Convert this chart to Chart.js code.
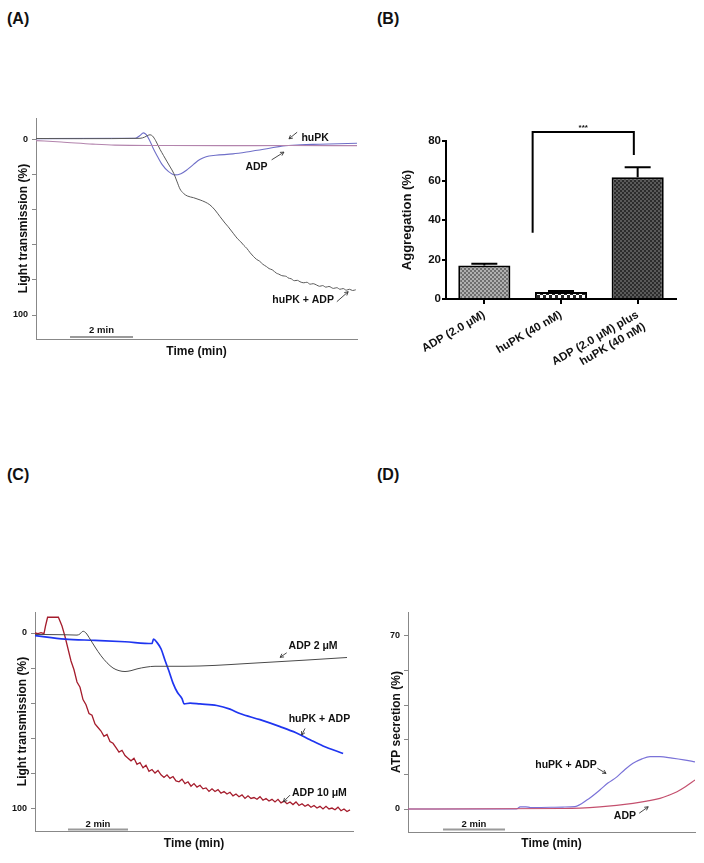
<!DOCTYPE html>
<html><head><meta charset="utf-8">
<script src="https://cdn.jsdelivr.net/npm/chart.js@4.4.1/dist/chart.umd.min.js"></script>
<style>
html,body{margin:0;padding:0;background:#fff}
body{width:704px;height:863px;position:relative;overflow:hidden;font-family:"Liberation Sans",Arial,sans-serif}
.lbl{position:absolute;font-weight:bold;font-size:16px;color:#111;line-height:18px}
canvas{position:absolute}
</style></head><body>
<div class="lbl" style="left:7px;top:10px">(A)</div>
<div class="lbl" style="left:377px;top:10px">(B)</div>
<div class="lbl" style="left:7px;top:466px">(C)</div>
<div class="lbl" style="left:377px;top:466px">(D)</div>
<canvas id="cA" width="360" height="270" style="left:0;top:100px"></canvas>
<canvas id="cB" width="344" height="290" style="left:360px;top:100px"></canvas>
<canvas id="cC" width="360" height="300" style="left:0;top:560px"></canvas>
<canvas id="cD" width="344" height="300" style="left:360px;top:560px"></canvas>
<script>
// ---------- Panel A data (time in min, light transmission %) ----------
const aHuPKTime = [0, 0.8, 1.8, 2.5, 4, 6, 8, 10.2];
const aHuPKVal  = [0.4, 1.2, 2.4, 3.0, 3.2, 3.3, 3.2, 3.3];
const aAdpTime = [0, 3.15, 3.3, 3.41, 3.5, 3.6, 3.7, 3.83, 4.0, 4.2, 4.41, 4.6, 4.8, 5.0, 5.2, 5.4, 5.7, 6.25, 6.8, 7.33, 7.84, 8.4, 9.0, 9.6, 10.2];
const aAdpVal  = [-0.7, -0.9, -2.5, -4, -3, 0, 4, 8.6, 14, 18, 20, 19.3, 17, 14, 11.2, 9.6, 8.8, 8.0, 6.6, 5.1, 3.4, 2.8, 2.5, 2.2, 1.9];
const aBothTime = [0, 1.5, 3.3, 3.45, 3.55, 3.62, 3.7, 3.8, 3.94, 4.05, 4.15, 4.26, 4.37, 4.47, 4.57, 4.68, 4.8, 5.0, 5.21, 5.37, 5.52, 5.68, 5.84, 6.0, 6.1, 6.26, 6.4, 6.5, 6.6, 6.69, 6.8, 6.9, 7.0, 7.1, 7.2, 7.32, 7.4, 7.5, 7.64, 7.7, 7.8, 7.96, 8.0, 8.1, 8.2, 8.3, 8.38, 8.5, 8.6, 8.7, 8.8, 8.91, 9.0, 9.1, 9.2, 9.3, 9.44, 9.55, 9.65, 9.75, 9.85, 9.95, 10.05, 10.15];
const aBothVal  = [-0.8, -0.7, -0.9, -1.6, -2.6, -2.9, -2.2, 0.5, 5.5, 9, 12.1, 15.5, 19, 23.5, 28, 30.5, 32, 33, 34.3, 35.5, 37.1, 40, 43.8, 47.5, 49.6, 53.3, 56.5, 58.2, 60.3, 61.9, 64.5, 66.5, 68.2, 69.3, 71, 72.4, 73.5, 74.2, 76.2, 76.6, 77.5, 78.1, 78.8, 79.3, 80.4, 80.2, 81, 81.6, 81.3, 82.4, 82.1, 82.9, 83.6, 83.2, 84.1, 83.7, 84.8, 84.4, 85.3, 84.9, 85.8, 85.3, 86, 85.6];

// ---------- Panel B data ----------
const bCategories = ['ADP (2.0 μM)', 'huPK (40 nM)', ['ADP (2.0 μM) plus', 'huPK (40 nM)']];
const bAggregation = [17, 3.5, 61.7];
const bError = [0.8, 0.5, 5.0];

// ---------- Panel C data ----------
const cRedTime = [0, 0.1, 0.2, 0.3, 0.35, 0.42, 0.78, 0.9, 1.0, 1.1, 1.2, 1.3, 1.4, 1.5, 1.6, 1.7, 1.8, 1.9, 2.0, 2.1, 2.2, 2.3, 2.4, 2.5, 2.6, 2.7, 2.8, 2.9, 3.0, 3.1, 3.2, 3.3, 3.4, 3.5, 3.6, 3.7, 3.8, 3.9, 4.0, 4.1, 4.2, 4.3, 4.4, 4.5, 4.6, 4.7, 4.8, 4.9, 5.0, 5.1, 5.2, 5.3, 5.4, 5.5, 5.6, 5.7, 5.8, 5.9, 6.0, 6.1, 6.2, 6.3, 6.4, 6.5, 6.6, 6.7, 6.8, 6.9, 7.0, 7.1, 7.2, 7.3, 7.4, 7.5, 7.6, 7.7, 7.8, 7.9, 8.0, 8.1, 8.2, 8.3, 8.4, 8.5, 8.6, 8.7, 8.8, 8.9, 9.0, 9.1, 9.2, 9.3, 9.4, 9.5, 9.6, 9.7, 9.8, 9.9, 10.0, 10.1, 10.2, 10.3, 10.4, 10.5];
const cRedVal  = [0, 0.3, -0.2, 0.4, -4, -9, -9, -4, 2, 9, 16, 21, 28, 31, 38, 41, 46, 47, 52, 54, 56, 59, 58, 62, 63, 65.5, 68, 67, 70, 71.5, 73, 71.5, 75, 74, 77, 75.5, 79, 78, 80, 78.5, 81, 82.5, 81, 83, 82, 84.5, 85, 83.5, 86, 85, 87.5, 86, 88, 87, 89, 88.5, 90.5, 89, 90.5, 89.5, 91.5, 90.5, 92, 91, 93, 92, 93.5, 92.5, 94.5, 93, 94.5, 94, 95, 93.5, 95.5, 94.5, 96, 95, 96.5, 95, 97, 96, 97.5, 96.5, 98, 96.5, 98.5, 97.5, 99, 98, 99.5, 98.5, 100, 99, 100.5, 99, 100.5, 100, 101, 99.5, 101.5, 100.5, 102, 101];
const cGrayTime = [0, 1.0, 1.4, 1.5, 1.6, 1.7, 1.8, 2.0, 2.2, 2.4, 2.6, 2.8, 3.0, 3.2, 3.4, 3.7, 4.0, 5.0, 6.0, 7.0, 8.0, 9.0, 10.4];
const cGrayVal  = [0.8, 1, 1.2, 0.5, -1, 0, 2.5, 8, 13, 17, 20, 21.5, 22, 21.5, 20.5, 19.5, 19, 19, 18.5, 17.5, 16.5, 15.5, 14];
const cBlueTime = [0, 1.0, 2.0, 3.0, 3.9, 3.95, 4.07, 4.2, 4.33, 4.47, 4.6, 4.75, 4.9, 4.97, 5.17, 5.5, 6.06, 6.5, 6.83, 7.5, 8.17, 8.7, 9.17, 9.6, 10.27];
const cBlueVal  = [1.5, 3.5, 4.2, 5, 6, 3.5, 5.5, 9, 15.4, 22, 28.6, 34, 37.5, 40.5, 40, 40.5, 41.4, 43.5, 46, 49.5, 53.5, 57, 61, 64.5, 68.8];

// ---------- Panel D data (ATP secretion %) ----------
const dBothTime = [0, 3.5, 3.62, 3.8, 3.95, 4.05, 5.0, 5.39, 5.77, 6.19, 6.45, 6.74, 7.0, 7.26, 7.55, 7.81, 8.13, 8.52, 8.9, 9.26];
const dBothVal  = [0, 0, 0.9, 0.9, 0.6, 0.6, 0.8, 1, 3.6, 7.7, 10.5, 13, 16, 18.5, 20.3, 21.2, 21.2, 20.6, 19.9, 19.1];
const dAdpTime = [0, 5.0, 6.19, 7.26, 7.7, 8.13, 8.4, 8.68, 8.95, 9.26];
const dAdpVal  = [0, 0.2, 0.9, 2.3, 3.2, 4.3, 5.5, 7, 9, 11.7];

const FONT = '"Liberation Sans", Arial, sans-serif';
const pts = (ts, vs) => ts.map((t, i) => ({x: t, y: vs[i]}));

function makeAnnot(spec) {
  return {
    id: 'annot',
    afterDatasetsDraw(chart) {
      const ctx = chart.ctx, xs = chart.scales.x, ys = chart.scales.y;
      const px = t => xs.getPixelForValue(t), py = v => ys.getPixelForValue(v);
      ctx.save();
      ctx.strokeStyle = '#333'; ctx.lineWidth = 0.9;
      (spec.arrows || []).forEach(a => {
        const x1 = px(a[0]), y1 = py(a[1]), x2 = px(a[2]), y2 = py(a[3]);
        ctx.beginPath(); ctx.moveTo(x1, y1); ctx.lineTo(x2, y2); ctx.stroke();
        const ang = Math.atan2(y2 - y1, x2 - x1), h = 4;
        ctx.beginPath();
        ctx.moveTo(x2 - h * Math.cos(ang - 0.5), y2 - h * Math.sin(ang - 0.5));
        ctx.lineTo(x2, y2);
        ctx.lineTo(x2 - h * Math.cos(ang + 0.5), y2 - h * Math.sin(ang + 0.5));
        ctx.stroke();
      });
      ctx.fillStyle = '#111';
      ctx.font = 'bold 10.5px ' + FONT;
      ctx.textAlign = 'center'; ctx.textBaseline = 'middle';
      (spec.texts || []).forEach(s => ctx.fillText(s[2], px(s[0]), py(s[1])));
      if (spec.bar) {
        const b = spec.bar;
        ctx.strokeStyle = '#9a9a9a'; ctx.lineWidth = 2;
        ctx.beginPath(); ctx.moveTo(px(b[0]), py(b[2])); ctx.lineTo(px(b[1]), py(b[2])); ctx.stroke();
        ctx.font = 'bold 9.5px ' + FONT;
        ctx.fillText('2 min', (px(b[0]) + px(b[1])) / 2, py(b[3]));
      }
      ctx.restore();
    }
  };
}

function traceOptions(o) {
  return {
    responsive: false, animation: false, events: [],
    layout: {padding: o.pad},
    plugins: {legend: {display: false}, tooltip: {enabled: false}},
    elements: {point: {radius: 0}, line: {borderWidth: 1.1, cubicInterpolationMode: 'monotone'}},
    scales: {
      x: {
        type: 'linear', min: 0, max: o.xmax,
        ticks: {display: false},
        grid: {drawOnChartArea: false, drawTicks: false, color: '#888'},
        border: {display: true, color: '#888', width: 1},
        title: {display: true, text: 'Time (min)', color: '#111', font: {family: FONT, size: 12, weight: 'bold'}, padding: {top: 0, bottom: o.xtPad}},
        afterFit: s => { s.height = o.xh; }
      },
      y: {
        type: 'linear', min: o.ymin, max: o.ymax, reverse: o.reverse,
        ticks: {stepSize: o.step, includeBounds: false, autoSkip: false, padding: 4, color: '#111',
                font: {family: FONT, size: 9, weight: 'bold'},
                callback: v => (o.show.indexOf(v) >= 0 ? String(v) : '')},
        grid: {drawOnChartArea: false, drawTicks: true, tickLength: 4, color: '#888'},
        border: {display: true, color: '#888', width: 1},
        title: {display: true, text: o.ytitle, color: '#111', font: {family: FONT, size: 12, weight: 'bold'}, padding: {top: o.ytPad, bottom: 0}},
        afterFit: s => { s.width = o.yw; }
      }
    }
  };
}

function lineDs(ts, vs, color, w) {
  return {data: pts(ts, vs), borderColor: color, borderWidth: w, pointRadius: 0, fill: false};
}

// ---------- Panel A ----------
new Chart(document.getElementById('cA'), {
  type: 'line',
  data: {datasets: [
    lineDs(aHuPKTime, aHuPKVal, '#b384ad', 1.1),
    lineDs(aBothTime, aBothVal, '#5a5a5a', 1.0),
    lineDs(aAdpTime, aAdpVal, '#6f6fc8', 1.1)
  ]},
  options: traceOptions({pad: {left: 0, top: 18, right: 3, bottom: 0}, xmax: 10.19, xh: 31, xtPad: 11,
    ymin: -12.5, ymax: 113.7, reverse: true, step: 20, show: [0, 100], yw: 36, ytPad: 16,
    ytitle: 'Light transmission (%)'}),
  plugins: [makeAnnot({
    texts: [[8.86, -1.1, 'huPK'], [7.0, 15.3, 'ADP'], [8.48, 91.4, 'huPK + ADP']],
    arrows: [[8.29, -4.4, 8.03, -0.6], [7.48, 11.4, 7.87, 7.0], [9.55, 92.4, 9.91, 86.7]],
    bar: [1.08, 3.08, 112.6, 109.0]
  })]
});

// ---------- Panel B ----------
function pattern(size, bg, fg, cells) {
  const c = document.createElement('canvas'); c.width = size; c.height = size;
  const g = c.getContext('2d');
  g.fillStyle = bg; g.fillRect(0, 0, size, size);
  g.fillStyle = fg; cells.forEach(p => g.fillRect(p[0], p[1], p[2], p[2]));
  return g.createPattern(c, 'repeat');
}
const ctxB = document.getElementById('cB').getContext('2d');
const patB = [
  pattern(4, '#b0b0b0', '#6e6e6e', [[0, 0, 2], [2, 2, 2]]),
  pattern(6, '#ffffff', '#2a2a2a', [[0, 0, 3], [3, 3, 3]]),
  pattern(4, '#2c2c2c', '#5a5a5a', [[0, 0, 2], [2, 2, 2]])
];
const barExtras = {
  id: 'barExtras',
  afterDatasetsDraw(chart) {
    const ctx = chart.ctx, xs = chart.scales.x, ys = chart.scales.y;
    const meta = chart.getDatasetMeta(0);
    ctx.save();
    ctx.strokeStyle = '#000'; ctx.lineWidth = 2;
    meta.data.forEach((el, i) => {
      const yTop = ys.getPixelForValue(bAggregation[i] + bError[i]);
      ctx.beginPath();
      ctx.moveTo(el.x, ys.getPixelForValue(bAggregation[i])); ctx.lineTo(el.x, yTop);
      ctx.moveTo(el.x - 13, yTop); ctx.lineTo(el.x + 13, yTop);
      ctx.stroke();
    });
    // significance bracket
    ctx.beginPath();
    ctx.moveTo(xs.getPixelForValue(0.63), ys.getPixelForValue(33.6));
    ctx.lineTo(xs.getPixelForValue(0.63), ys.getPixelForValue(84.6));
    ctx.lineTo(xs.getPixelForValue(1.95), ys.getPixelForValue(84.6));
    ctx.lineTo(xs.getPixelForValue(1.95), ys.getPixelForValue(72.9));
    ctx.stroke();
    ctx.fillStyle = '#111'; ctx.font = 'bold 8px ' + FONT;
    ctx.textAlign = 'center'; ctx.textBaseline = 'middle';
    ctx.fillText('***', xs.getPixelForValue(1.29), ys.getPixelForValue(86.8));
    ctx.restore();
  }
};
new Chart(ctxB, {
  type: 'bar',
  data: {labels: bCategories, datasets: [{data: bAggregation, backgroundColor: patB, borderColor: '#000', borderWidth: 2, borderSkipped: 'bottom', barPercentage: 0.68, categoryPercentage: 1}]},
  options: {
    responsive: false, animation: false, events: [],
    layout: {padding: {left: 0, top: 41, right: 28, bottom: 0}},
    plugins: {legend: {display: false}, tooltip: {enabled: false}},
    scales: {
      x: {
        ticks: {minRotation: 30, maxRotation: 30, autoSkip: false, padding: 4, color: '#111', font: {family: FONT, size: 11.5, weight: 'bold'}},
        grid: {offset: false, drawOnChartArea: false, drawTicks: true, tickLength: 5, color: '#000', lineWidth: 2},
        border: {display: true, color: '#000', width: 2},
        afterFit: s => { s.height = 91; }
      },
      y: {
        min: 0, max: 80,
        ticks: {stepSize: 20, padding: 1, color: '#111', font: {family: FONT, size: 11.5, weight: 'bold'}},
        grid: {drawOnChartArea: false, drawTicks: true, tickLength: 4, color: '#000', lineWidth: 2},
        border: {display: true, color: '#000', width: 2},
        title: {display: true, text: 'Aggregation (%)', color: '#111', font: {family: FONT, size: 13, weight: 'bold'}, padding: {top: 40, bottom: 0}},
        afterFit: s => { s.width = 86; }
      }
    }
  },
  plugins: [barExtras]
});

// ---------- Panel C ----------
new Chart(document.getElementById('cC'), {
  type: 'line',
  data: {datasets: [
    lineDs(cGrayTime, cGrayVal, '#4a4a4a', 1.0),
    lineDs(cBlueTime, cBlueVal, '#1f35f0', 1.7),
    Object.assign(lineDs(cRedTime, cRedVal, '#a51c2c', 1.3), {cubicInterpolationMode: 'default', tension: 0})
  ]},
  options: traceOptions({pad: {left: 0, top: 52, right: 7, bottom: 0}, xmax: 10.6, xh: 29, xtPad: 9,
    ymin: -12, ymax: 113.1, reverse: true, step: 20, show: [0, 100], yw: 35, ytPad: 15,
    ytitle: 'Light transmission (%)'}),
  plugins: [makeAnnot({
    texts: [[9.27, 7.4, 'ADP 2 μM'], [9.48, 49.3, 'huPK + ADP'], [9.48, 91.3, 'ADP 10 μM']],
    arrows: [[8.39, 11.3, 8.17, 13.9], [9.0, 54.5, 8.89, 58.3], [8.5, 92.6, 8.28, 96.4]],
    bar: [1.1, 3.1, 112.3, 109.1]
  })]
});

// ---------- Panel D ----------
new Chart(document.getElementById('cD'), {
  type: 'line',
  data: {datasets: [
    lineDs(dAdpTime, dAdpVal, '#c4506e', 1.2),
    lineDs(dBothTime, dBothVal, '#7a72d8', 1.2)
  ]},
  options: traceOptions({pad: {left: 0, top: 52, right: 9, bottom: 0}, xmax: 9.26, xh: 28, xtPad: 9,
    ymin: -9.3, ymax: 79.7, reverse: false, step: 14, show: [0, 70], yw: 48, ytPad: 29,
    ytitle: 'ATP secretion (%)'}),
  plugins: [makeAnnot({
    texts: [[5.1, 17.8, 'huPK + ADP'], [7.0, -2.8, 'ADP']],
    arrows: [[6.11, 16.5, 6.39, 14.4], [7.46, -1.7, 7.75, 0.9]],
    bar: [1.13, 3.13, -8.3, -6.1]
  })]
});
</script>
</body></html>
